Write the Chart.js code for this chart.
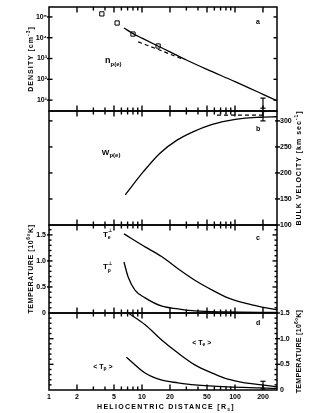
<!DOCTYPE html>
<html><head><meta charset="utf-8">
<script src="https://cdn.jsdelivr.net/npm/chart.js@4.4.0/dist/chart.umd.min.js"></script>
<style>
html,body{margin:0;padding:0;background:#fff;}
#wrap{position:relative;width:317px;height:413px;overflow:hidden;}
canvas{position:absolute;left:0;top:0;}
</style></head><body>
<div id="wrap">
<canvas id="ca" width="317" height="413"></canvas>
<canvas id="cb" width="317" height="413"></canvas>
<canvas id="cc" width="317" height="413"></canvas>
<canvas id="cd" width="317" height="413"></canvas>
</div>
<script>
// ---------- data (heliocentric distance in solar radii) ----------
const xMin = 1, xMax = 283;
const xTickLabels = [1, 2, 5, 10, 20, 50, 100, 200];
const xMinorTicks = [3, 4, 6, 7, 8, 9, 30, 40, 60, 70, 80, 90];

// panel a: density [cm^-3]
const densityR = [6.4, 8, 10, 15, 20, 30, 50, 100, 200, 283];
const densityN = [29500, 15800, 9500, 3900, 2100, 850, 300, 78, 19, 9.3];
const densityDashR = [9.1, 15, 27];
const densityDashN = [6300, 2700, 960];
const densityObsR = [3.7, 5.4, 8.0, 14.9];
const densityObsN = [140000, 51000, 15000, 4000];
const densityBarR = 200;
const densityBar = [4.1, 12.5];
const densityTicks = [10, 100, 1000, 10000, 100000];

// panel b: bulk velocity [km/s]
const velocityR = [6.6, 10.3, 15.6, 23.8, 35.3, 53.8, 82, 122, 186, 283];
const velocityW = [158, 202, 238, 263, 279, 292, 300, 305, 307, 308];
const velocityDashR = [64, 200];
const velocityDashW = [311, 311];
const velocityBarR = 200;
const velocityBar = [300, 318];
const velocityTicks = [100, 150, 200, 250, 300];

// panel c: perpendicular temperatures [10^6 K]
const tePerpR = [6.4, 10.8, 16.4, 24.4, 37, 57, 84, 128, 195, 283];
const tePerp  = [1.52, 1.27, 1.08, 0.85, 0.63, 0.44, 0.29, 0.19, 0.115, 0.06];
const tpPerpR = [6.4, 7.1, 8.4, 10.8, 16.4, 24.4, 37, 80, 283];
const tpPerp  = [0.98, 0.69, 0.44, 0.29, 0.13, 0.08, 0.04, 0.02, 0.01];

// panel d: mean temperatures [10^6 K]
const teAvgR = [7.1, 10.8, 16.4, 24.4, 37, 57, 84, 128, 195, 283];
const teAvg  = [1.5, 1.27, 0.97, 0.72, 0.49, 0.33, 0.21, 0.14, 0.10, 0.06];
const tpAvgR = [6.8, 10.8, 16.4, 24.4, 37, 84, 195, 283];
const tpAvg  = [0.64, 0.33, 0.19, 0.14, 0.10, 0.06, 0.04, 0.03];
const tempBarR = 200;
const tempBar = [0.02, 0.17];
const tempMajor = [0.5, 1.0, 1.5];
const tempMinorC = [0.1,0.2,0.3,0.4,0.6,0.7,0.8,0.9,1.1,1.2,1.3,1.4,1.6];
const tempMinorD = [0.1,0.2,0.3,0.4,0.6,0.7,0.8,0.9,1.1,1.2,1.3,1.4];

// ---------- helpers ----------
const FF = "'Liberation Sans', Arial, Helvetica, sans-serif";
Chart.defaults.font.family = FF;
Chart.defaults.font.size = 7;
Chart.defaults.font.weight = 'bold';
Chart.defaults.color = '#000';

const pts = (xs, ys) => xs.map((x, i) => ({x: x, y: ys[i]}));
const lineDs = (data, extra) => Object.assign({
  data: data, showLine: true, borderColor: '#000', borderWidth: 1.3,
  pointRadius: 0, cubicInterpolationMode: 'monotone', fill: false
}, extra || {});
const barDs = (r, range) => ({
  data: [{x: r, y: range[0]}, {x: r, y: range[1]}], showLine: true,
  borderColor: '#000', borderWidth: 1.2, pointStyle: 'line', pointRadius: 2.6,
  pointBorderColor: '#000', pointBorderWidth: 1.2, pointHoverRadius: 0
});
const supDigits = {'1':'¹','2':'²','3':'³','4':'⁴','5':'⁵'};

function xScale(show) {
  const cfg = {
    type: 'logarithmic', min: xMin, max: xMax, display: show,
    grid: {display: false, drawTicks: false}, border: {display: false},
    ticks: {autoSkip: false, maxRotation: 0, minRotation: 0, padding: 3,
      font: {size: 7, weight: 'bold'},
      callback: (v) => { const t = xTickLabels.find(t => Math.abs(t - v) < 1e-6 * t); return t ? String(t) : ''; }}
  };
  if (show) cfg.afterFit = (s) => { s.height = 23; };
  return cfg;
}

function drawRuns(ctx, runs, x, y, align, spacing) {
  ctx.letterSpacing = (spacing || 0) + 'px';
  let w = 0;
  const ws = runs.map(r => { ctx.font = 'bold ' + r.s + 'px ' + FF; const m = ctx.measureText(r.t).width; if (!r.stay) w += m; return m; });
  let cx = align === 'center' ? x - w / 2 : (align === 'right' ? x - w : x);
  ctx.textAlign = 'left'; ctx.textBaseline = 'middle';
  runs.forEach((r, i) => { ctx.font = 'bold ' + r.s + 'px ' + FF; ctx.fillText(r.t, cx, y + (r.dy || 0)); if (!r.stay) cx += ws[i]; });
  ctx.letterSpacing = '0px';
}

const framePlugin = {
  id: 'frame',
  afterDraw(chart, args, o) {
    const ctx = chart.ctx, a = chart.chartArea;
    const xs = chart.scales.x, ys = chart.scales.y;
    ctx.save();
    ctx.strokeStyle = '#000'; ctx.fillStyle = '#000'; ctx.lineWidth = 1.4;
    ctx.lineCap = 'butt';
    const seg = (x1, y1, x2, y2) => { ctx.beginPath(); ctx.moveTo(x1, y1); ctx.lineTo(x2, y2); ctx.stroke(); };
    [[xTickLabels, 5.5], [xMinorTicks, 3.5]].forEach(([vals, len]) => {
      vals.forEach(v => {
        if (v <= xMin) return;
        const px = xs.getPixelForValue(v);
        seg(px, a.top, px, a.top + len);
        seg(px, a.bottom, px, a.bottom - len);
      });
    });
    (o.yTicks || []).forEach(t => {
      t.vals.forEach(v => {
        const py = ys.getPixelForValue(v);
        if (t.side === 'left') seg(a.left - (t.out || 0), py, a.left + t.len, py);
        else seg(a.right + (t.out || 0), py, a.right - t.len, py);
      });
    });
    ctx.lineWidth = 1.5;
    ctx.strokeRect(a.left, a.top, a.right - a.left, a.bottom - a.top);
    (o.labels || []).forEach(l => {
      drawRuns(ctx, l.runs, xs.getPixelForValue(l.x), ys.getPixelForValue(l.y), l.align || 'left', 0);
    });
    (o.titles || []).forEach(t => {
      const cy = (a.top + a.bottom) / 2;
      if (t.side === 'bottom') {
        drawRuns(ctx, t.runs, (a.left + a.right) / 2 + 3, a.bottom + 17.5, 'center', 1.3);
      } else {
        const cx = t.side === 'left' ? a.left - 17.5 : a.right + 22.5;
        ctx.save(); ctx.translate(cx, cy); ctx.rotate(-Math.PI / 2);
        drawRuns(ctx, t.runs, 0, 0, 'center', t.spacing);
        ctx.restore();
      }
    });
    ctx.restore();
  }
};
Chart.register(framePlugin);

function makeChart(id, datasets, yCfg, padding, showX, frame) {
  return new Chart(document.getElementById(id), {
    type: 'scatter',
    data: {datasets: datasets},
    options: {
      responsive: false, animation: false, devicePixelRatio: 1,
      events: [],
      layout: {padding: padding},
      scales: {x: xScale(showX), y: Object.assign({grid: {display: false, drawTicks: false}, border: {display: false}}, yCfg)},
      plugins: {legend: {display: false}, tooltip: {enabled: false}, frame: frame}
    }
  });
}

const tempLabel = (v) => v === 0 ? '0' : v.toFixed(1);
const titleTemp = [{t: 'TEMPERATURE [10', s: 7}, {t: '6', s: 5, dy: -2.5}, {t: '°K]', s: 7}];

// ---------- panel a ----------
makeChart('ca', [
  lineDs(pts(densityR, densityN)),
  lineDs(pts(densityDashR, densityDashN), {borderDash: [4, 3], borderWidth: 1.2}),
  {data: pts(densityObsR, densityObsN), showLine: false, pointStyle: 'rect', pointRadius: 3,
   pointBackgroundColor: '#fff', pointBorderColor: '#000', pointBorderWidth: 1},
  barDs(densityBarR, densityBar)
], {
  type: 'logarithmic', position: 'left', min: 3, max: 3e5,
  ticks: {autoSkip: false, padding: 2, font: {size: 7, weight: 'bold'},
    callback: (v) => { const e = Math.log10(v); return Math.abs(e - Math.round(e)) < 1e-9 && e >= 1 ? '10' + supDigits[String(Math.round(e))] : ''; }},
  afterFit: (s) => { s.width = 49; }
}, {top: 7, bottom: 302, left: 0, right: 40}, false, {
  yTicks: [{side: 'left', vals: densityTicks, len: 3.5, out: 2}, {side: 'right', vals: densityTicks, len: 3.5}],
  labels: [
    {x: 4.0, y: 680, runs: [{t: 'n', s: 9, dy: -1}, {t: 'p(e)', s: 6, dy: 2}]},
    {x: 177, y: 57000, runs: [{t: 'a', s: 7}], align: 'center'}
  ],
  titles: [{side: 'left', spacing: 1, runs: [{t: 'DENSITY [cm', s: 7}, {t: '-3', s: 5, dy: -2.5}, {t: ']', s: 7}]}]
});

// ---------- panel b ----------
makeChart('cb', [
  lineDs(pts(velocityR, velocityW)),
  lineDs(pts(velocityDashR, velocityDashW), {borderDash: [4, 3], borderWidth: 1.2}),
  barDs(velocityBarR, velocityBar)
], {
  type: 'linear', position: 'right', min: 100, max: 319,
  ticks: {autoSkip: false, padding: 3, stepSize: 50, includeBounds: false, font: {size: 7, weight: 'bold'},
    callback: (v) => velocityTicks.includes(v) ? String(v) : ''},
  afterFit: (s) => { s.width = 40; }
}, {top: 111, bottom: 188, left: 49, right: 0}, false, {
  yTicks: [{side: 'left', vals: [150, 200, 250, 300], len: 3.5}, {side: 'right', vals: velocityTicks, len: 2, out: 3}],
  labels: [
    {x: 3.7, y: 238, runs: [{t: 'W', s: 8}, {t: 'p(e)', s: 6, dy: 2}]},
    {x: 177, y: 285, runs: [{t: 'b', s: 7}], align: 'center'}
  ],
  titles: [{side: 'right', spacing: 1, runs: [{t: 'BULK VELOCITY [km sec', s: 7}, {t: '-1', s: 5, dy: -2.5}, {t: ']', s: 7}]}]
});

// ---------- panel c ----------
makeChart('cc', [
  lineDs(pts(tePerpR, tePerp)),
  lineDs(pts(tpPerpR, tpPerp))
], {
  type: 'linear', position: 'left', min: 0, max: 1.69,
  ticks: {autoSkip: false, padding: 3, stepSize: 0.5, includeBounds: false, font: {size: 7, weight: 'bold'},
    callback: tempLabel},
  afterFit: (s) => { s.width = 49; }
}, {top: 225, bottom: 100, left: 0, right: 40}, false, {
  yTicks: [{side: 'left', vals: tempMajor, len: 3.5, out: 2}, {side: 'left', vals: tempMinorC, len: 2.5},
           {side: 'right', vals: tempMajor, len: 4.5}, {side: 'right', vals: tempMinorC, len: 2.5}],
  labels: [
    {x: 3.8, y: 1.5, runs: [{t: 'T', s: 8}, {t: '⊥', s: 5, dy: -4, stay: true}, {t: 'e', s: 5, dy: 3}]},
    {x: 3.8, y: 0.88, runs: [{t: 'T', s: 8}, {t: '⊥', s: 5, dy: -4, stay: true}, {t: 'p', s: 5, dy: 3}]},
    {x: 177, y: 1.44, runs: [{t: 'c', s: 7}], align: 'center'}
  ],
  titles: [{side: 'left', spacing: 0.6, runs: titleTemp}]
});

// ---------- panel d ----------
makeChart('cd', [
  lineDs(pts(teAvgR, teAvg)),
  lineDs(pts(tpAvgR, tpAvg)),
  barDs(tempBarR, tempBar)
], {
  type: 'linear', position: 'right', min: 0, max: 1.5,
  ticks: {autoSkip: false, padding: 3, stepSize: 0.5, includeBounds: false, font: {size: 7, weight: 'bold'},
    callback: tempLabel},
  afterFit: (s) => { s.width = 40; }
}, {top: 313, bottom: 0, left: 49, right: 0}, true, {
  yTicks: [{side: 'left', vals: [0.5, 1.0], len: 4.5}, {side: 'left', vals: tempMinorD, len: 2.5},
           {side: 'right', vals: tempMajor, len: 2, out: 3}, {side: 'right', vals: tempMinorD, len: 2.5}],
  labels: [
    {x: 3.8, y: 0.45, runs: [{t: '< T', s: 7}, {t: 'p', s: 5, dy: 2}, {t: ' >', s: 7}], align: 'center'},
    {x: 44, y: 0.92, runs: [{t: '< T', s: 7}, {t: 'e', s: 5, dy: 2}, {t: ' >', s: 7}], align: 'center'},
    {x: 177, y: 1.31, runs: [{t: 'd', s: 7}], align: 'center'}
  ],
  titles: [{side: 'right', spacing: 0.3, runs: titleTemp},
           {side: 'bottom', runs: [{t: 'HELIOCENTRIC DISTANCE [R', s: 7}, {t: 's', s: 5, dy: 2}, {t: ']', s: 7}]}]
});
</script>
</body></html>
